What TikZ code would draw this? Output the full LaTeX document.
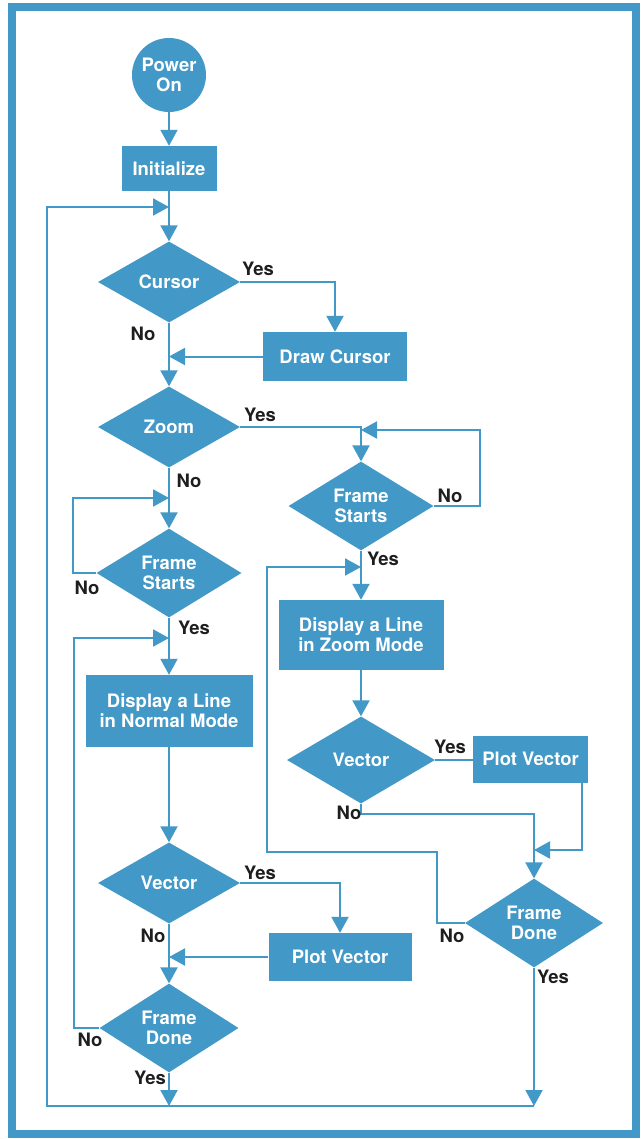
\documentclass[tikz,border=0pt]{standalone}
\usepackage{fontspec}
\setmainfont{TeX Gyre Heros}
\usetikzlibrary{shapes.geometric,arrows.meta}
\definecolor{chartblue}{RGB}{66,152,198}
\definecolor{answergray}{RGB}{30,30,30}
\newcommand\chartfont{\fontsize{18.5}{20}\selectfont\bfseries}
\begin{document}
\begin{tikzpicture}[x=1pt,y=-1pt,>={Triangle[width=17pt,length=16pt]},
  flow/.style={draw=chartblue,line width=2pt},
  box node/.style={rectangle,fill=chartblue,text=white,font=\chartfont,align=center,inner sep=0pt},
  test node/.style={diamond,fill=chartblue,text=white,font=\chartfont,align=center,inner sep=0pt,minimum width=142pt,minimum height=81pt},
  start node/.style={circle,fill=chartblue,text=white,font=\chartfont,align=center,inner sep=0pt,minimum size=74pt},
  answer/.style={text=answergray,font=\chartfont,inner sep=0pt}]
  \useasboundingbox (0,0) rectangle (642,1139);
  \draw[draw=chartblue,line width=8pt] (12,7) rectangle (636,1134);

  \node[start node] (power) at (169,75) {Power\\On};
  \node[box node,minimum width=95pt,minimum height=45pt] (init) at (169,168.5) {Initialize};
  \node[test node] (cursor) at (169,282) {Cursor};
  \node[box node,minimum width=144pt,minimum height=49pt] (drawcur) at (335,356.5) {Draw Cursor};
  \node[test node] (zoom) at (169,427) {Zoom};
  \node[test node,minimum width=145pt,minimum height=83pt] (startsL) at (169,573) {Frame\\Starts};
  \node[test node,minimum width=145pt,minimum height=83pt] (startsR) at (361,506) {Frame\\Starts};
  \node[box node,minimum width=167pt,minimum height=72pt] (lineN) at (169,711) {Display a Line\\in Normal Mode};
  \node[box node,minimum width=165pt,minimum height=70pt] (lineZ) at (361,635) {Display a Line\\in Zoom Mode};
  \node[test node,minimum width=148pt,minimum height=87pt] (vectorR) at (361,760) {Vector};
  \node[box node,minimum width=115pt,minimum height=47pt] (plotR) at (530.5,759) {Plot Vector};
  \node[test node] (vectorL) at (169,883) {Vector};
  \node[box node,minimum width=143pt,minimum height=48pt] (plotL) at (340,957) {Plot Vector};
  \node[test node,minimum width=138pt,minimum height=80pt] (doneR) at (534,923) {Frame\\Done};
  \node[test node,minimum width=139pt,minimum height=80pt] (doneL) at (169,1028) {Frame\\Done};

  \coordinate (topjoin) at (169,207);
  \coordinate (backL) at (47,1106);
  \coordinate (backR) at (534,1106);
  \coordinate (rloop) at (480,430);
  \coordinate (lloop) at (73,498);
  \coordinate (lloop2) at (74,638);
  \coordinate (zloop) at (267,852);
  \coordinate (zloop2) at (437,852);
  \coordinate (zjoin) at (361,567);
  \coordinate (vjoin) at (361,814);
  \coordinate (pjoin) at (582,850);

  \draw[flow,->] (power) -- (init);
  \draw[flow,->] (init) -- (cursor);
  \draw[flow,->] (cursor.east) -| (drawcur.north);
  \draw[flow,->] (cursor) -- (zoom);
  \draw[flow,->] (drawcur.west) -- (drawcur.west -| cursor.south);
  \draw[flow,->] (zoom.east) -| (startsR.north);
  \draw[flow,->] (startsR.east) -| (rloop) -- (rloop -| startsR.north);
  \draw[flow,->] (zoom) -- (startsL);
  \draw[flow,->] (startsL.west) -| (lloop) -- (lloop -| zoom.south);
  \draw[flow,->] (startsL) -- (lineN);
  \draw[flow,->] (doneL.west) -| (lloop2) -- (lloop2 -| startsL.south);
  \draw[flow,->] (lineN) -- (vectorL);
  \draw[flow,->] (vectorL.east) -| (plotL.north);
  \draw[flow,->] (vectorL) -- (doneL);
  \draw[flow,->] (plotL.west) -- (plotL.west -| vectorL.south);
  \draw[flow,->] (doneL.south) -- (doneL.south |- backL);
  \draw[flow,->] (startsR) -- (lineZ);
  \draw[flow,->] (lineZ) -- (vectorR);
  \draw[flow] (vectorR.east) -- (vectorR.east -| plotR.west);
  \draw[flow,->] (plotR.south -| pjoin) -- (pjoin) -- (pjoin -| doneR.north);
  \draw[flow,->] (vectorR.south) -- (vjoin) -| (doneR.north);
  \draw[flow,->] (doneR.west) -| (zloop2) -- (zloop) |- (zjoin);
  \draw[flow,->] (doneR.south) -- (backR);
  \draw[flow,->] (backR) -- (backL) |- (topjoin);

  \node[answer] (yes1) at (258,269) {Yes};
  \node[answer] (no1) at (143,334) {No};
  \node[answer] (yes2) at (260,415) {Yes};
  \node[answer] (no2) at (189,481) {No};
  \node[answer] (no3) at (450,496) {No};
  \node[answer] (no4) at (87,588) {No};
  \node[answer] (yes3) at (383,559) {Yes};
  \node[answer] (yes4) at (194,628) {Yes};
  \node[answer] (yes5) at (450,747) {Yes};
  \node[answer] (no5) at (349,813) {No};
  \node[answer] (yes6) at (260,873) {Yes};
  \node[answer] (no6) at (153,936) {No};
  \node[answer] (no7) at (452,936) {No};
  \node[answer] (yes7) at (553,977) {Yes};
  \node[answer] (no8) at (90,1040) {No};
  \node[answer] (yes8) at (150,1078) {Yes};
\end{tikzpicture}
\end{document}
